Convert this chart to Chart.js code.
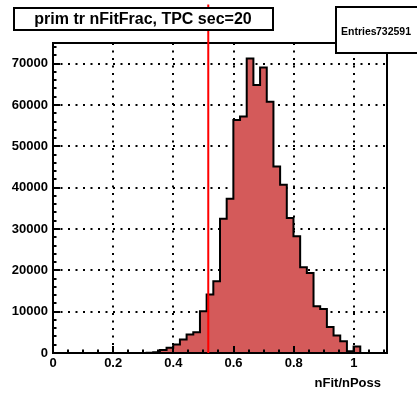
<!DOCTYPE html>
<html>
<head>
<title>prim tr nFitFrac, TPC sec=20</title>
<script src="https://cdn.jsdelivr.net/npm/chart.js@4.4.1/dist/chart.umd.min.js"></script>
<style>
    body { margin: 0; background: #fff; }
    #box { position: relative; width: 417px; height: 396px; }
</style>
</head>
<body>
<div id="box"><canvas id="hist" width="417" height="396"></canvas></div>
<script>
    const histTitle = 'prim tr nFitFrac, TPC sec=20';
    const xTitle = 'nFit/nPoss';
    const entries = 732591;

    // histogram binning: 50 bins over [0, 1.11]
    const xMin = 0;
    const xMax = 1.11;
    const nBins = 50;
    const counts = [
        0, 0, 0, 0, 0, 0, 0, 0, 0, 0,
        0, 0, 0, 0, 40, 200, 700, 1250, 2050, 3260,
        4470, 5030, 10100, 14130, 17350, 32480, 37300, 56400, 57200, 71280,
        64840, 69100, 60800, 45120, 40690, 32640, 28220, 20730, 19360, 11310,
        10660, 6320, 4230, 2860, 400, 1600, 0, 0, 0, 0
    ];
    const xTicks = [0, 0.2, 0.4, 0.6, 0.8, 1];
    const yTicks = [0, 10000, 20000, 30000, 40000, 50000, 60000, 70000];
    const yMax = 75000;

    // red cut line
    const cutX = 0.516;
    const cutTop = 84300;

    const binW = (xMax - xMin) / nBins;
    const points = counts.map((c, i) => ({ x: xMin + i * binW, y: c }));
    points.push({ x: xMax, y: 0 });

    const FONT = '"Liberation Sans", Arial, sans-serif';

    const rootDecor = {
        id: 'rootDecor',
        afterDatasetsDraw(chart) {
            const ctx = chart.ctx;
            const a = chart.chartArea;
            const xs = chart.scales.x;
            const ys = chart.scales.y;
            ctx.save();
            ctx.strokeStyle = '#000';
            ctx.lineWidth = 2;

            // inner ticks, y axis
            ctx.beginPath();
            for (let v = 0; v < yMax; v += 2000) {
                const y = Math.round(ys.getPixelForValue(v));
                const len = v % 10000 === 0 ? 7 : 3.5;
                ctx.moveTo(a.left, y);
                ctx.lineTo(a.left + len, y);
            }
            // inner ticks, x axis
            for (let k = 0; k * 0.05 < xMax; k++) {
                const x = Math.round(xs.getPixelForValue(k * 0.05));
                const len = k % 4 === 0 ? 7 : 3.5;
                ctx.moveTo(x, a.bottom);
                ctx.lineTo(x, a.bottom - len);
            }
            ctx.stroke();

            // frame
            ctx.strokeRect(a.left, a.top, a.right - a.left, a.bottom - a.top);

            // cut line
            ctx.strokeStyle = '#ff0000';
            ctx.lineWidth = 2;
            const cx = xs.getPixelForValue(cutX);
            ctx.beginPath();
            ctx.moveTo(cx, ys.getPixelForValue(0));
            ctx.lineTo(cx, ys.getPixelForValue(cutTop));
            ctx.stroke();

            // title box
            ctx.fillStyle = '#fff';
            ctx.strokeStyle = '#000';
            ctx.lineWidth = 2;
            ctx.fillRect(14, 8, 259, 22);
            ctx.strokeRect(14, 8, 259, 22);
            ctx.fillStyle = '#000';
            ctx.font = 'bold 16px ' + FONT;
            ctx.textAlign = 'center';
            ctx.textBaseline = 'middle';
            ctx.fillText(histTitle, 143, 19.5);

            // stats box
            ctx.fillStyle = '#fff';
            ctx.fillRect(336, 7, 90, 46);
            ctx.strokeRect(336, 7, 90, 46);
            ctx.fillStyle = '#000';
            ctx.font = 'bold 10.5px ' + FONT;
            ctx.textAlign = 'left';
            ctx.fillText('Entries', 341, 32);
            ctx.textAlign = 'right';
            ctx.fillText(String(entries), 411, 32);

            // x axis title
            ctx.font = 'bold 13px ' + FONT;
            ctx.textAlign = 'right';
            ctx.fillText(xTitle, 381, 383);
            ctx.restore();
        }
    };

    new Chart(document.getElementById('hist'), {
        type: 'line',
        data: {
            datasets: [{
                data: points,
                stepped: 'before',
                fill: 'origin',
                backgroundColor: '#d45a5a',
                borderColor: '#000',
                borderWidth: 2,
                pointRadius: 0,
                tension: 0
            }]
        },
        options: {
            responsive: false,
            animation: false,
            events: [],
            layout: { padding: { top: 43, right: 30, left: 0, bottom: 0 } },
            plugins: {
                legend: { display: false },
                title: { display: false },
                tooltip: { enabled: false }
            },
            scales: {
                x: {
                    type: 'linear',
                    min: xMin,
                    max: xMax,
                    afterFit: s => { s.height = 43; },
                    afterBuildTicks: s => { s.ticks = xTicks.map(v => ({ value: v })); },
                    ticks: {
                        color: '#000',
                        font: { family: FONT, size: 13, weight: 'bold' },
                        padding: 3,
                        maxRotation: 0,
                        autoSkip: false,
                        callback: v => String(+v.toFixed(2))
                    },
                    grid: {
                        drawTicks: false,
                        lineWidth: 2,
                        color: c => (c.tick && c.tick.value === 0) ? 'rgba(0,0,0,0)' : '#000'
                    },
                    border: { display: false, dash: [2, 5.5] }
                },
                y: {
                    min: 0,
                    max: yMax,
                    afterFit: s => { s.width = 53; },
                    afterBuildTicks: s => { s.ticks = yTicks.map(v => ({ value: v })); },
                    ticks: {
                        color: '#000',
                        font: { family: FONT, size: 13, weight: 'bold' },
                        padding: 5,
                        callback: v => String(v)
                    },
                    grid: {
                        drawTicks: false,
                        lineWidth: 2,
                        color: c => (c.tick && c.tick.value === 0) ? 'rgba(0,0,0,0)' : '#000'
                    },
                    border: { display: false, dash: [2, 5.5] }
                }
            }
        },
        plugins: [rootDecor]
    });
</script>
</body>
</html>
